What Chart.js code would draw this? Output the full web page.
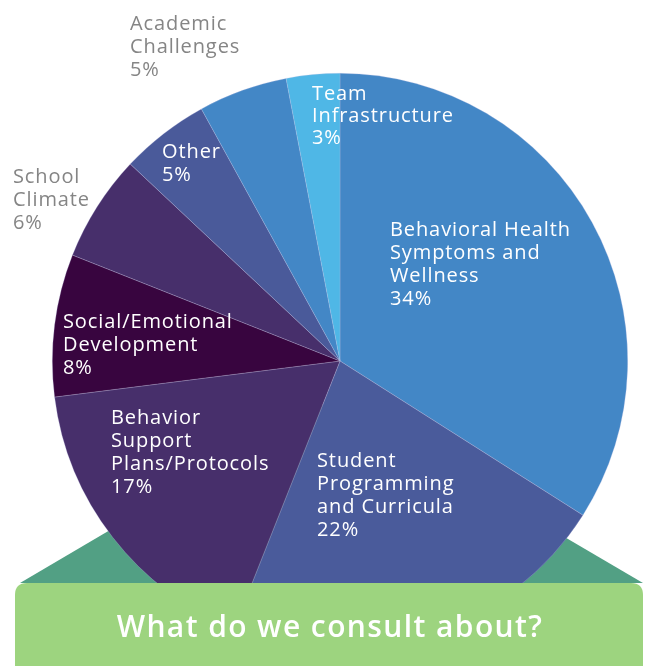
<!DOCTYPE html>
<html>
<head>
<meta charset="utf-8">
<script src="https://cdn.jsdelivr.net/npm/chart.js@4/dist/chart.umd.min.js"></script>
<style>
  html, body { margin: 0; padding: 0; background: #ffffff; }
  canvas { display: block; }
</style>
</head>
<body>
<canvas id="c" width="648" height="666"></canvas>
<script>
// ---- data ----
const categories = [
  "Behavioral Health Symptoms and Wellness",
  "Student Programming and Curricula",
  "Behavior Support Plans/Protocols",
  "Social/Emotional Development",
  "School Climate",
  "Other",
  "Academic Challenges",
  "Team Infrastructure"
];
const percentages = [34, 22, 17, 8, 6, 5, 5, 3];
const labelLines = [
  ["Behavioral Health", "Symptoms and", "Wellness"],
  ["Student", "Programming", "and Curricula"],
  ["Behavior", "Support", "Plans/Protocols"],
  ["Social/Emotional", "Development"],
  ["School", "Climate"],
  ["Other"],
  ["Academic", "Challenges"],
  ["Team", "Infrastructure"]
];
const titleText = "What do we consult about?";

// ---- styles / layout ----
const sliceColors = ["#4387c6", "#4a5b9b", "#472f6b", "#38053f", "#472f6b", "#4a5a9a", "#4387c6", "#4fb7e6"];
const labelInside = [true, true, true, true, false, true, false, true];
// label anchor offsets (px) relative to the pie centre
const labelOffsets = [
  [50, -125], [-23, 106], [-229, 63], [-277, -33],
  [-327, -178], [-178, -203], [-210, -331], [-28, -261]
];
const lineHeights = [23, 23, 23, 23, 23, 23, 23, 22];
const FONT = '"Open Sans", "Lato", sans-serif';

const decorPlugin = {
  id: 'decor',
  beforeDatasetsDraw(chart) {
    const ctx = chart.ctx;
    const arc = chart.getDatasetMeta(0).data[0];
    const cx = arc.x;
    ctx.save();
    ctx.fillStyle = '#52a084';
    ctx.beginPath();
    ctx.moveTo(20, 583);
    ctx.lineTo(643, 583);
    ctx.lineTo(cx - 9, 400);
    ctx.closePath();
    ctx.fill();
    ctx.restore();
  },
  afterDatasetsDraw(chart) {
    const ctx = chart.ctx;
    const arc = chart.getDatasetMeta(0).data[0];
    const cx = arc.x, cy = arc.y;
    ctx.save();
    ctx.font = '20px ' + FONT;
    ctx.letterSpacing = '0.9px';
    ctx.textBaseline = 'alphabetic';
    ctx.textAlign = 'left';
    for (let i = 0; i < categories.length; i++) {
      const lines = labelLines[i].concat([percentages[i] + '%']);
      const x = cx + labelOffsets[i][0];
      let y = cy + labelOffsets[i][1];
      ctx.fillStyle = labelInside[i] ? '#ffffff' : '#858585';
      for (const ln of lines) {
        ctx.fillText(ln, x, y);
        y += lineHeights[i];
      }
    }
    // banner
    const bx = 15, by = 583, bw = 628, bh = 95, r = 12;
    ctx.fillStyle = '#9dd47f';
    ctx.beginPath();
    ctx.moveTo(bx + r, by);
    ctx.lineTo(bx + bw - r, by);
    ctx.quadraticCurveTo(bx + bw, by, bx + bw, by + r);
    ctx.lineTo(bx + bw, by + bh);
    ctx.lineTo(bx, by + bh);
    ctx.lineTo(bx, by + r);
    ctx.quadraticCurveTo(bx, by, bx + r, by);
    ctx.closePath();
    ctx.fill();
    ctx.fillStyle = '#ffffff';
    ctx.font = '600 30px ' + FONT;
    ctx.letterSpacing = '1.4px';
    ctx.textAlign = 'center';
    ctx.fillText(titleText, 330, 637);
    ctx.restore();
  }
};

new Chart(document.getElementById('c'), {
  type: 'pie',
  data: {
    labels: categories,
    datasets: [{
      data: percentages,
      backgroundColor: sliceColors,
      borderColor: 'rgba(190,190,230,0.45)',
      borderWidth: 0.6
    }]
  },
  options: {
    responsive: false,
    animation: false,
    rotation: 0,
    layout: { padding: { left: 52, right: 20, top: 73, bottom: 17 } },
    plugins: { legend: { display: false }, tooltip: { enabled: false } }
  },
  plugins: [decorPlugin]
});
</script>
</body>
</html>
